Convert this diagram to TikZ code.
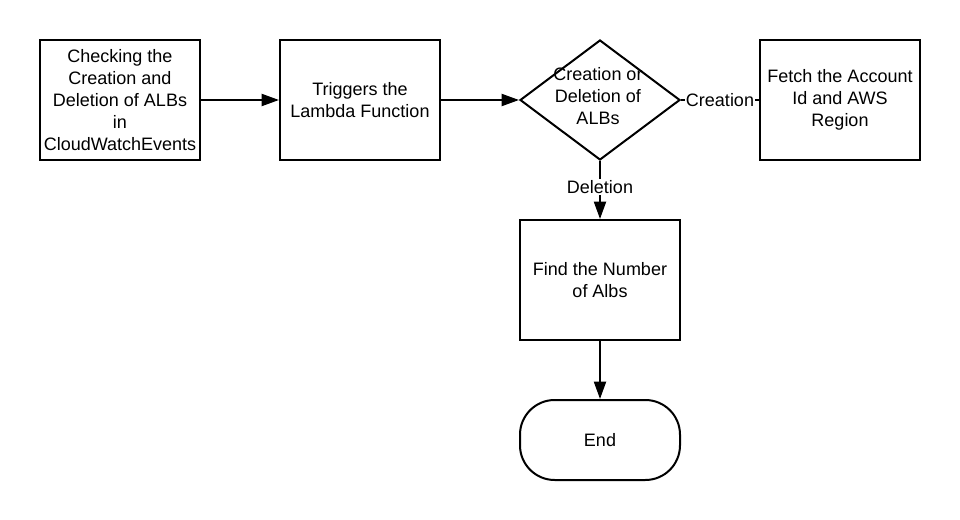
\documentclass[tikz,border=0pt]{standalone}
\usepackage{fontspec}
\setmainfont{Liberation Sans}
\usetikzlibrary{shapes.geometric,arrows.meta}

\tikzset{
  box/.style={draw, line width=1.5pt, minimum width=120pt, minimum height=90pt, align=center, inner sep=0pt},
  decision/.style={draw, diamond, line width=1.5pt, minimum width=120pt, minimum height=90pt, inner sep=0pt},
  terminal/.style={draw, rounded corners=26pt, line width=1.5pt, minimum width=120pt, minimum height=60pt, align=center},
  arrow/.style={line width=1.5pt, -{Triangle[length=13pt,width=9pt]}},
  lbl/.style={fill=white, inner sep=1pt}
}

\begin{document}
\begin{tikzpicture}[x=0.75pt, y=-0.75pt, font=\fontsize{13.5}{16.5}\selectfont]

    \useasboundingbox (0, 0) rectangle (960, 520);

    \node[box] (a) at (120, 100) {Checking the\\Creation and\\Deletion of ALBs\\in\\CloudWatchEvents};
    \node[box] (b) at (360, 100) {Triggers the\\Lambda Function};
    \node[decision] (c) at (600, 100) {};
    \node at (598, 98) {\begin{tabular}{@{}c@{}}Creation or\\Deletion of\\ALBs\end{tabular}};
    \node[box] (d) at (840, 100) {Fetch the Account\\Id and AWS\\Region};
    \node[box] (e) at (600, 280) {Find the Number\\of Albs};
    \node[terminal] (f) at (600, 440) {End};

    \draw [arrow] (a) to (b);
    \draw [arrow] (b) to (c);
    \draw [line width=1.5pt] (c.east) to node[lbl] {Creation} (d.west);
    \draw [arrow] (c.south) to node[lbl, pos=0.45] {Deletion} (e.north);
    \draw [arrow] (e) to (f);

\end{tikzpicture}
\end{document}
